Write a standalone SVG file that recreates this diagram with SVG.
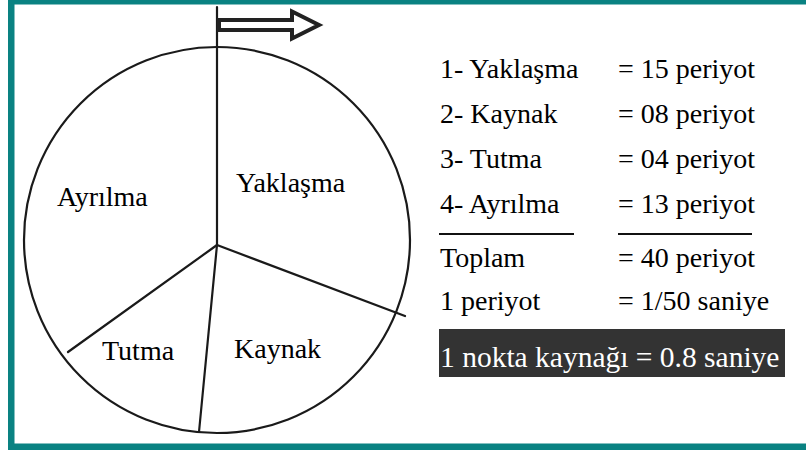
<svg xmlns="http://www.w3.org/2000/svg" width="806" height="452" viewBox="0 0 806 452" font-family="Times New Roman, Liberation Serif, Tinos, serif">
<rect width="806" height="452" fill="#ffffff"/>
<g id="frame" fill="#0a8282">
<rect x="8" y="0" width="798" height="4.5"/>
<rect x="8" y="0" width="6.5" height="450"/>
<rect x="8" y="443.5" width="798" height="6.5"/>
</g>
<g id="pie" stroke="#1a1a1a" stroke-width="2.2" fill="none">
<circle cx="217" cy="240" r="193"/>
</g>
<g id="connectors" stroke="#1a1a1a" stroke-width="2.2" fill="none" stroke-linecap="round">
<line x1="217" y1="7" x2="217" y2="245"/>
<line x1="217" y1="245" x2="405" y2="316"/>
<line x1="217" y1="245" x2="199" y2="432"/>
<line x1="217" y1="245" x2="68" y2="352"/>
</g>
<g id="arrow">
<polygon points="219,20 292,20 292,11.5 319,25 292,38.5 292,30 219,30" fill="#fff" stroke="#222" stroke-width="4" stroke-linejoin="miter"/>
</g>
<text x="236" y="192" font-size="28" font-family="Times New Roman">Yaklaşma</text>
<text x="57" y="206" font-size="28" font-family="Times New Roman">Ayrılma</text>
<text x="102" y="360" font-size="28" font-family="Times New Roman">Tutma</text>
<text x="234" y="358" font-size="28" font-family="Times New Roman">Kaynak</text>
<text x="440" y="78" font-size="28" font-family="Times New Roman">1- Yaklaşma</text>
<text x="618" y="78" font-size="28" font-family="Times New Roman">= 15 periyot</text>
<text x="440" y="123" font-size="28" font-family="Times New Roman">2- Kaynak</text>
<text x="618" y="123" font-size="28" font-family="Times New Roman">= 08 periyot</text>
<text x="440" y="168" font-size="28" font-family="Times New Roman">3- Tutma</text>
<text x="618" y="168" font-size="28" font-family="Times New Roman">= 04 periyot</text>
<text x="440" y="213" font-size="28" font-family="Times New Roman">4- Ayrılma</text>
<text x="618" y="213" font-size="28" font-family="Times New Roman">= 13 periyot</text>
<g id="rules" stroke="#111" stroke-width="2">
<line x1="439" y1="234" x2="574" y2="234"/>
<line x1="618" y1="234" x2="752" y2="234"/>
</g>
<text x="440" y="267" font-size="28" font-family="Times New Roman">Toplam</text>
<text x="618" y="267" font-size="28" font-family="Times New Roman">= 40 periyot</text>
<text x="440" y="310" font-size="28" font-family="Times New Roman">1 periyot</text>
<text x="618" y="310" font-size="28" font-family="Times New Roman">= 1/50 saniye</text>
<rect x="439" y="329" width="346" height="48" fill="#333333"/>
<text x="440" y="367" font-size="29.5" font-family="Times New Roman" fill="#ffffff">1 nokta kaynağı = 0.8 saniye</text>
</svg>
